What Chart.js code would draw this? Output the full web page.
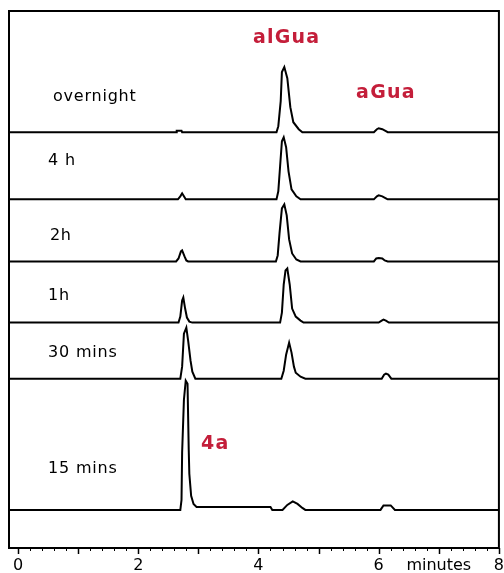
<!DOCTYPE html>
<html>
<head>
<meta charset="utf-8">
<script src="https://cdn.jsdelivr.net/npm/chart.js@4.4.1/dist/chart.umd.min.js"></script>
<style>
    body { margin: 0; background: white; }
    #wrap { width: 504px; height: 573px; position: relative; }
</style>
</head>
<body>
<div id="wrap"><canvas id="myChart"></canvas></div>
<script>
// Chromatogram data: time in minutes, signal height (same units as the y scale)
let traceNames = ['overnight', '4 h', '2h', '1h', '30 mins', '15 mins'];
let baselines = [415, 348, 286, 225, 169, 38];

let overnight = [[-0.15, 0], [2.63, 0], [2.64, 1.5], [2.72, 1.5], [2.73, 0], [4.30, 0], [4.33, 6], [4.37, 31], [4.39, 60], [4.43, 65], [4.48, 54], [4.53, 25], [4.58, 10], [4.67, 3], [4.73, 0], [5.92, 0], [5.97, 3], [6.0, 4], [6.06, 3], [6.12, 1], [6.15, 0], [8, 0]];
let h4 = [[-0.15, 0], [2.66, 0], [2.7, 3], [2.73, 6], [2.76, 3], [2.79, 0], [4.3, 0], [4.33, 8], [4.36, 33], [4.39, 58], [4.42, 62], [4.46, 52], [4.5, 28], [4.55, 10], [4.63, 3], [4.7, 0], [5.92, 0], [5.97, 3], [6.0, 4], [6.06, 3], [6.12, 1], [6.15, 0], [8, 0]];
let h2 = [[-0.15, 0], [2.63, 0], [2.67, 3], [2.71, 10], [2.73, 11], [2.77, 5], [2.8, 1], [2.83, 0], [4.29, 0], [4.32, 6], [4.35, 28], [4.39, 53], [4.43, 57], [4.47, 46], [4.51, 22], [4.56, 8], [4.63, 2], [4.7, 0], [5.92, 0], [5.96, 3], [6.0, 3.5], [6.06, 3], [6.1, 1], [6.15, 0], [8, 0]];
let h1 = [[-0.15, 0], [2.67, 0], [2.7, 6], [2.73, 22], [2.75, 25], [2.78, 14], [2.81, 5], [2.85, 1], [2.9, 0], [4.36, 0], [4.39, 10], [4.42, 38], [4.45, 52], [4.48, 54], [4.52, 38], [4.56, 14], [4.62, 6], [4.7, 2], [4.75, 0], [6.0, 0], [6.05, 2], [6.08, 3], [6.12, 2], [6.17, 0], [8, 0]];
let mins30 = [[-0.15, 0], [2.7, 0], [2.73, 12], [2.76, 45], [2.8, 51], [2.83, 38], [2.87, 18], [2.9, 7], [2.95, 0], [4.38, 0], [4.42, 8], [4.46, 24], [4.51, 36], [4.55, 26], [4.59, 12], [4.62, 6], [4.7, 2], [4.78, 0], [6.05, 0], [6.09, 4], [6.12, 5], [6.16, 4], [6.21, 0], [8, 0]];
let mins15 = [[-0.15, 0], [2.7, 0], [2.72, 10], [2.73, 57], [2.76, 110], [2.79, 129], [2.82, 126], [2.84, 60], [2.85, 36], [2.88, 14], [2.92, 6], [2.97, 3], [4.2, 3], [4.23, 0], [4.4, 0], [4.48, 5], [4.57, 8.5], [4.65, 6], [4.73, 2], [4.78, 0], [6.03, 0], [6.08, 4.5], [6.2, 4.5], [6.27, 0], [8, 0]];

let traces = [overnight, h4, h2, h1, mins30, mins15];

let tickLabels = { 0: '0', 2: '2', 4: '4', 6: '6', 7: 'minutes', 8: '8' };
let peakNames = ['alGua', 'aGua', '4a'];

// where the texts go (data coordinates)
let traceLabelPos = [[0.58, 450], [0.5, 386], [0.53, 312], [0.5, 252], [0.5, 195], [0.5, 79]];
let peakLabelPos = [[4.47, 509], [6.12, 454], [3.28, 104]];

let datasets = traces.map(function (tr, i) {
    return {
        label: traceNames[i],
        data: tr.map(function (p) { return { x: p[0], y: p[1] + baselines[i] }; }),
        borderColor: 'black',
        borderWidth: 2,
        pointRadius: 0,
        tension: 0,
        fill: false
    };
});

let textPlugin = {
    id: 'texts',
    afterDraw: function (chart) {
        let c = chart.ctx;
        let xs = chart.scales.x, ys = chart.scales.y;
        let a = chart.chartArea;

        // ticks: long ones on whole minutes, short ones every 0.2
        c.save();
        c.strokeStyle = 'black';
        xs.ticks.forEach(function (t) {
            let major = Math.abs(t.value - Math.round(t.value)) < 0.01;
            let px = Math.round(xs.getPixelForValue(t.value)) + 0.5;
            c.lineWidth = major ? 1.5 : 1;
            c.beginPath();
            c.moveTo(px, a.bottom);
            c.lineTo(px, a.bottom + (major ? 6 : 3));
            c.stroke();
        });
        // frame
        c.lineWidth = 2;
        c.strokeRect(a.left, a.top, a.right - a.left, a.bottom - a.top);

        c.textAlign = 'left';
        c.textBaseline = 'middle';
        c.fillStyle = 'black';
        c.font = '16px "DejaVu Sans"';
        c.letterSpacing = '0.8px';
        traceNames.forEach(function (name, i) {
            c.fillText(name, xs.getPixelForValue(traceLabelPos[i][0]), ys.getPixelForValue(traceLabelPos[i][1]));
        });

        c.textAlign = 'center';
        c.fillStyle = '#c41e3a';
        c.font = 'bold 19px "DejaVu Sans"';
        c.letterSpacing = '1.2px';
        peakNames.forEach(function (name, i) {
            c.fillText(name, xs.getPixelForValue(peakLabelPos[i][0]), ys.getPixelForValue(peakLabelPos[i][1]));
        });
        c.restore();
    }
};

let ctx = document.getElementById('myChart').getContext('2d');
let myChart = new Chart(ctx, {
    type: 'line',
    data: { datasets: datasets },
    options: {
        responsive: true,
        maintainAspectRatio: false,
        animation: false,
        layout: {
            padding: { left: 9, right: 0, top: 11, bottom: -1 }
        },
        scales: {
            x: {
                type: 'linear',
                min: -0.15,
                max: 8,
                border: { display: false },
                grid: {
                    drawOnChartArea: false,
                    tickLength: 10,
                    tickColor: 'rgba(0,0,0,0)'
                },
                ticks: {
                    stepSize: 0.2,
                    includeBounds: false,
                    autoSkip: false,
                    maxRotation: 0,
                    padding: 0,
                    color: 'black',
                    font: { family: 'DejaVu Sans', size: 16, lineHeight: 1 },
                    callback: function (v) {
                        let k = Math.round(v * 10) / 10;
                        return tickLabels[k] !== undefined ? tickLabels[k] : '';
                    }
                }
            },
            y: {
                display: false,
                min: 0,
                max: 536
            }
        },
        plugins: {
            legend: { display: false },
            tooltip: { enabled: false }
        }
    },
    plugins: [textPlugin]
});
</script>
</body>
</html>
